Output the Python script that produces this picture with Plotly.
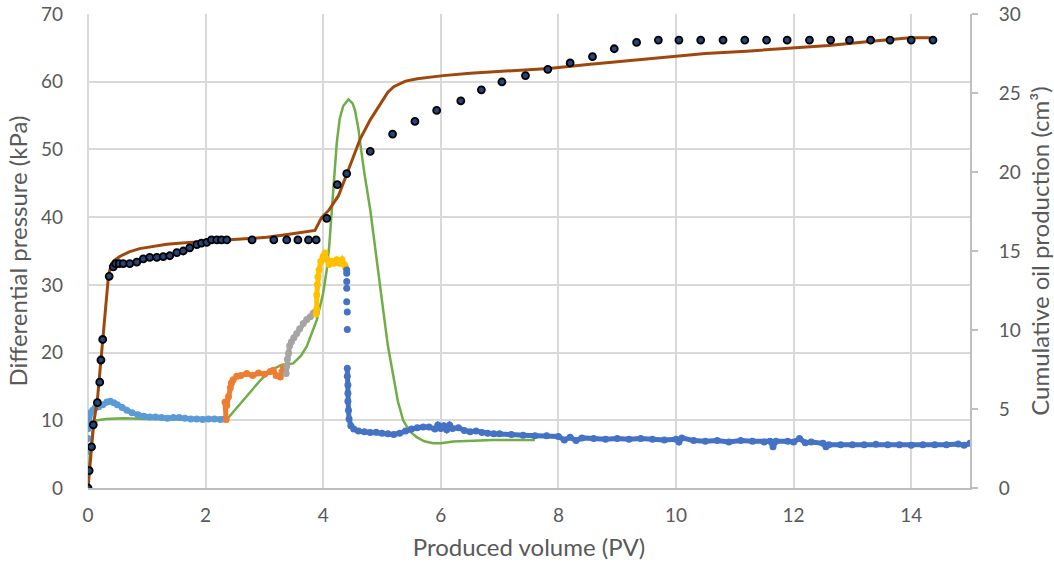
import plotly.graph_objects as go

# ---- Measured differential pressure (kPa), split by injection stage ----
stage1_pv = [0.0, 0.0, 0.0, 0.01, 0.02, 0.04, 0.08, 0.12, 0.18, 0.25, 0.32, 0.38, 0.44, 0.5,
             0.58, 0.66, 0.75, 0.85, 0.95, 1.05, 1.15, 1.25, 1.35, 1.45, 1.55, 1.65, 1.75,
             1.85, 1.95, 2.05, 2.15, 2.25, 2.32]
stage1_dp = [5.4, 7.3, 8.8, 10.0, 10.6, 11.1, 11.5, 11.8, 12.0, 12.3, 12.7, 12.8, 12.6, 12.3,
             11.9, 11.5, 11.1, 10.8, 10.6, 10.5, 10.5, 10.4, 10.3, 10.4, 10.4, 10.3, 10.2,
             10.2, 10.1, 10.2, 10.2, 10.1, 10.2]

stage2_pv = [2.35, 2.33, 2.36, 2.39, 2.42, 2.44, 2.47, 2.53, 2.6, 2.7, 2.8, 2.9, 3.0, 3.1,
             3.15, 3.2, 3.27, 3.3, 3.32, 3.35]
stage2_dp = [10.1, 12.7, 12.2, 13.5, 14.8, 15.5, 16.0, 16.5, 16.6, 16.9, 16.6, 17.0, 16.8,
             17.2, 17.4, 16.6, 16.4, 17.2, 17.9, 17.5]

stage3_pv = [3.37, 3.38, 3.39, 3.41, 3.43, 3.46, 3.5, 3.55, 3.6, 3.66, 3.72, 3.78, 3.83, 3.86]
stage3_dp = [16.9, 18.0, 19.0, 19.9, 21.0, 21.6, 22.2, 22.8, 23.5, 24.3, 24.9, 25.3, 25.8, 26.0]

stage4_pv = [3.88, 3.89, 3.89, 3.9, 3.91, 3.93, 3.96, 4.0, 4.03, 4.06, 4.1, 4.14, 4.18,
             4.23, 4.28, 4.32, 4.36, 4.38]
stage4_dp = [25.7, 26.4, 28.5, 30.0, 31.2, 32.2, 33.5, 34.2, 34.7, 33.8, 33.0, 33.5, 33.2,
             33.7, 33.2, 33.7, 33.0, 32.6]

stage5_drop_pv = [4.40, 4.40, 4.40, 4.40, 4.40, 4.41, 4.41]
stage5_drop_dp = [32.2, 31.7, 30.5, 29.5, 27.5, 26.0, 23.4]

stage5_pv = [4.41, 4.41, 4.42, 4.42, 4.42, 4.43, 4.44, 4.47, 4.52, 4.6, 4.7, 4.8, 4.9, 5.0,
             5.1, 5.2, 5.3, 5.4, 5.5, 5.6, 5.7, 5.8, 5.9, 5.95, 6.0, 6.05, 6.1, 6.15, 6.2,
             6.3, 6.4, 6.5, 6.6, 6.7, 6.8, 6.9, 7.0, 7.2, 7.4, 7.6, 7.8, 8.0, 8.1, 8.2, 8.3,
             8.4, 8.6, 8.8, 9.0, 9.2, 9.4, 9.6, 9.8, 10.0, 10.05, 10.1, 10.3, 10.5, 10.7,
             10.9, 11.1, 11.3, 11.5, 11.6, 11.65, 11.7, 11.9, 12.0, 12.1, 12.2, 12.3, 12.5,
             12.55, 12.6, 12.8, 13.0, 13.2, 13.4, 13.6, 13.8, 14.0, 14.2, 14.4, 14.6, 14.8,
             14.9, 15.0]
stage5_dp = [17.7, 16.5, 15.2, 14.0, 12.8, 11.5, 10.2, 9.2, 8.7, 8.4, 8.3, 8.2, 8.25, 8.1,
             8.0, 7.9, 8.1, 8.4, 8.7, 8.9, 9.0, 9.0, 8.7, 9.3, 8.8, 9.2, 8.6, 9.3, 8.8,
             8.9, 8.5, 8.3, 8.4, 8.2, 8.1, 8.0, 8.0, 7.9, 7.8, 7.7, 7.7, 7.6, 7.1, 7.5, 7.0,
             7.4, 7.3, 7.2, 7.3, 7.2, 7.3, 7.2, 7.1, 7.2, 6.8, 7.4, 7.0, 6.9, 7.0,
             6.8, 7.0, 6.9, 6.8, 6.9, 6.1, 6.9, 6.9, 6.8, 7.3, 6.7, 6.8, 6.6,
             6.1, 6.4, 6.4, 6.4, 6.4, 6.45, 6.4, 6.4, 6.3, 6.4, 6.4, 6.4, 6.5,
             6.3, 6.6]

# ---- Simulated differential pressure (kPa) ----
sim_dp_pv = [0.0, 0.03, 0.08, 0.15, 0.3, 0.6, 1.0, 1.5, 2.0, 2.36, 2.6, 2.93, 3.1, 3.27,
             3.49, 3.62, 3.72, 3.8, 3.89, 4.0, 4.06, 4.1, 4.14, 4.18, 4.23, 4.28, 4.34,
             4.43, 4.5, 4.54, 4.6, 4.63, 4.7, 4.8, 4.9, 5.02, 5.1, 5.19, 5.27, 5.36, 5.47,
             5.59, 5.72, 5.87, 6.0, 6.21, 6.5, 6.89, 7.35, 7.6]
sim_dp = [0.0, 4.5, 8.5, 10.0, 10.2, 10.3, 10.2, 10.1, 10.1, 10.1, 12.6, 15.9, 17.3, 18.1,
          18.4, 19.5, 20.9, 22.6, 24.8, 28.8, 32.2, 35.5, 40.5, 45.5, 50.9, 54.5, 56.4,
          57.4, 56.8, 55.8, 53.0, 50.9, 46.5, 41.1, 34.0, 26.3, 21.0, 16.4, 12.8, 10.0, 8.4,
          7.5, 6.9, 6.6, 6.6, 6.85, 7.0, 7.1, 7.1, 7.1]

# ---- Measured cumulative oil production (cm³) ----
oil_pv = [0.0, 0.02, 0.06, 0.09, 0.16, 0.20, 0.22, 0.25, 0.36, 0.43, 0.47, 0.53, 0.6,
          0.71, 0.83, 0.94, 1.05, 1.17, 1.28, 1.39, 1.51, 1.62, 1.73, 1.85, 1.93, 2.02,
          2.10, 2.19, 2.27, 2.36, 2.79, 3.16, 3.38, 3.57, 3.75, 3.88, 4.06, 4.24, 4.40,
          4.80, 5.18, 5.56, 5.93, 6.34, 6.69, 7.04, 7.44, 7.82, 8.2, 8.58, 8.95, 9.33,
          9.7, 10.05, 10.42, 10.80, 11.17, 11.54, 11.89, 12.27, 12.63, 12.95, 13.31,
          13.64, 14.0, 14.37]
oil_cm3 = [0.0, 1.1, 2.6, 4.0, 5.4, 6.7, 8.1, 9.4, 13.4, 14.0, 14.2, 14.2, 14.2,
           14.2, 14.3, 14.5, 14.6, 14.6, 14.65, 14.7, 14.9, 15.0, 15.2, 15.4, 15.5, 15.55,
           15.7, 15.7, 15.7, 15.7, 15.7, 15.7, 15.7, 15.7, 15.7, 15.7, 17.07, 19.2, 19.9,
           21.3, 22.4, 23.2, 23.9, 24.5, 25.2, 25.7, 26.1, 26.5, 26.9, 27.3, 27.8, 28.2,
           28.35, 28.35, 28.35, 28.35, 28.35, 28.35, 28.35, 28.35, 28.35, 28.35, 28.35,
           28.35, 28.35, 28.35]

# ---- Simulated cumulative oil production (cm³) ----
sim_oil_pv = [0.0, 0.05, 0.1, 0.16, 0.22, 0.28, 0.35, 0.4, 0.45, 0.54, 0.7, 0.88, 1.1,
              1.34, 1.6, 1.9, 2.2, 2.47, 2.8, 3.04, 3.3, 3.6, 3.86, 3.97, 4.1, 4.26, 4.37,
              4.5, 4.63, 4.8, 5.02, 5.1, 5.2, 5.3, 5.4, 5.6, 5.82, 6.04, 6.5, 6.89, 7.35,
              7.84, 8.5, 9.2, 9.86, 10.5, 11.2, 11.89, 12.6, 13.24, 13.98, 14.32]
sim_oil = [0.0, 2.4, 4.2, 5.6, 8.0, 10.6, 13.5, 14.2, 14.4, 14.65, 14.95, 15.15, 15.3,
           15.42, 15.5, 15.58, 15.65, 15.72, 15.8, 15.87, 16.0, 16.15, 16.3, 17.1, 17.6,
           18.5, 19.6, 20.8, 22.1, 23.3, 24.6, 25.05, 25.4, 25.6, 25.75, 25.9, 26.0, 26.1,
           26.25, 26.35, 26.45, 26.55, 26.8, 27.05, 27.3, 27.5, 27.65, 27.8, 28.0, 28.25,
           28.5, 28.5]

x_ticks = [0, 2, 4, 6, 8, 10, 12, 14]

FONT = "Lato"
GREY_TEXT = "#595959"
GRID = "#d9d9d9"
AXIS = "#bfbfbf"
TICK_SIZE = 19
TITLE_SIZE = 24


def band(x, y, color, name):
    # dense logger readings: markers joined so the cloud reads as a band
    return go.Scatter(x=x, y=y, mode="lines+markers", name=name,
                      line=dict(color=color, width=5),
                      marker=dict(color=color, size=7))


def dots(x, y, color, name):
    return go.Scatter(x=x, y=y, mode="markers", name=name,
                      marker=dict(color=color, size=7))


fig = go.Figure()

fig.add_trace(go.Scatter(x=sim_dp_pv, y=sim_dp, mode="lines", name="Simulated ΔP",
                         line=dict(color="#70AD47", width=2.5)))
# first readings of stage 1 are isolated points before the band forms
fig.add_trace(dots(stage1_pv[:3], stage1_dp[:3], "#5B9BD5", "Stage 1"))
fig.add_trace(band(stage1_pv[2:], stage1_dp[2:], "#5B9BD5", "Stage 1"))
fig.add_trace(band(stage2_pv, stage2_dp, "#ED7D31", "Stage 2"))
fig.add_trace(band(stage3_pv, stage3_dp, "#A5A5A5", "Stage 3"))
fig.add_trace(band(stage4_pv, stage4_dp, "#FFC000", "Stage 4"))
fig.add_trace(dots(stage5_drop_pv, stage5_drop_dp, "#4472C4", "Stage 5"))
fig.add_trace(band(stage5_pv, stage5_dp, "#4472C4", "Stage 5"))

fig.add_trace(go.Scatter(x=sim_oil_pv, y=sim_oil, mode="lines", name="Simulated oil",
                         line=dict(color="#9E480E", width=3), yaxis="y2"))
fig.add_trace(go.Scatter(x=oil_pv, y=oil_cm3, mode="markers", name="Measured oil",
                         marker=dict(color="#264478", size=7,
                                     line=dict(color="#000000", width=1.8)),
                         yaxis="y2"))

fig.update_layout(
    width=1054, height=570,
    margin=dict(l=88, r=84, t=14, b=82),
    paper_bgcolor="white", plot_bgcolor="white",
    showlegend=False,
    font=dict(family=FONT, size=TICK_SIZE, color=GREY_TEXT),
    xaxis=dict(
        range=[0, 15], tickvals=x_ticks, showgrid=True, gridcolor=GRID, gridwidth=2,
        zeroline=True, zerolinecolor=GRID, zerolinewidth=2,
        showline=True, linecolor=AXIS, linewidth=2, ticks="",
        ticklabelstandoff=9, automargin=False,
        title=dict(text="Produced volume (PV)", font=dict(size=TITLE_SIZE, color=GREY_TEXT),
                   standoff=14),
    ),
    yaxis=dict(
        range=[0, 70], dtick=10, showgrid=True, gridcolor=GRID, gridwidth=2,
        zeroline=False, showline=False, ticks="", ticklabelstandoff=24, automargin=False,
        title=dict(text="Differential pressure (kPa)",
                   font=dict(size=TITLE_SIZE, color=GREY_TEXT), standoff=6),
    ),
    yaxis2=dict(
        range=[0, 30], dtick=5, overlaying="y", side="right", showgrid=False,
        zeroline=False, showline=True, linecolor=AXIS, linewidth=2,
        ticks="outside", ticklen=6, tickwidth=2, tickcolor=AXIS, ticklabelstandoff=17,
        automargin=False,
        title=dict(text="Cumulative oil production (cm³)",
                   font=dict(size=TITLE_SIZE, color=GREY_TEXT), standoff=13),
    ),
)

fig.write_html("out.html")
